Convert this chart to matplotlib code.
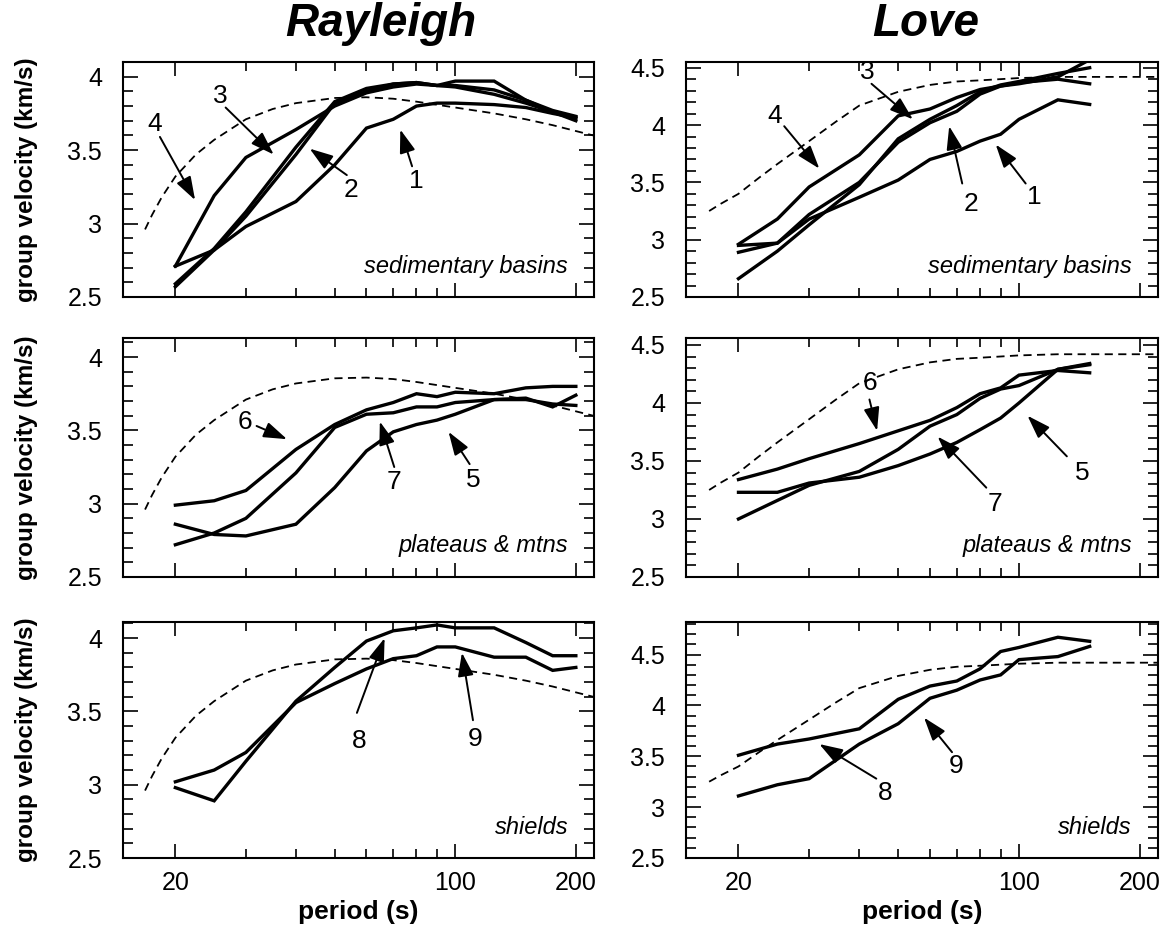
import matplotlib
matplotlib.use('Agg')
import matplotlib.pyplot as plt
from matplotlib.ticker import FixedLocator, NullFormatter, FormatStrFormatter

plt.rcParams['font.family'] = ['Liberation Sans', 'DejaVu Sans']

# periods (s)
per_ray = [20, 25, 30, 40, 50, 60, 70, 80, 90, 100, 125, 150, 175, 200]
per_love = [20, 25, 30, 40, 50, 60, 70, 80, 90, 100, 125, 150]

# reference model (dashed)
ref_ray_T = [16.8, 17.5, 18.5, 20, 22.5, 25, 30, 35, 40, 50, 60, 70, 80, 100, 125, 150, 175, 200, 221]
ref_ray_U = [2.96, 3.06, 3.18, 3.32, 3.47, 3.57, 3.71, 3.78, 3.82, 3.855, 3.86, 3.85, 3.83, 3.79, 3.75, 3.71, 3.67, 3.63, 3.60]
ref_love_T = [16.9, 18, 20, 22.5, 25, 30, 35, 40, 50, 60, 70, 80, 100, 125, 150, 222]
ref_love_U = [3.25, 3.31, 3.40, 3.54, 3.66, 3.86, 4.03, 4.17, 4.29, 4.35, 4.38, 4.39, 4.41, 4.42, 4.42, 4.42]

# Rayleigh group velocities (km/s)
ray_sed_1 = [2.71, 2.82, 2.98, 3.15, 3.40, 3.65, 3.71, 3.80, 3.82, 3.82, 3.81, 3.79, 3.75, 3.72]
ray_sed_2 = [2.57, 2.82, 3.05, 3.47, 3.82, 3.90, 3.95, 3.96, 3.94, 3.93, 3.88, 3.82, 3.76, 3.70]
ray_sed_3 = [2.59, 2.83, 3.08, 3.52, 3.83, 3.92, 3.95, 3.96, 3.94, 3.94, 3.91, 3.84, 3.76, 3.72]
ray_sed_4 = [2.71, 3.19, 3.45, 3.64, 3.80, 3.89, 3.93, 3.95, 3.94, 3.97, 3.97, 3.84, 3.77, 3.73]

ray_pla_5 = [2.86, 2.79, 2.78, 2.86, 3.11, 3.36, 3.49, 3.54, 3.57, 3.61, 3.71, 3.71, 3.68, 3.67]
ray_pla_6 = [2.99, 3.02, 3.09, 3.37, 3.54, 3.64, 3.69, 3.75, 3.73, 3.76, 3.75, 3.79, 3.80, 3.80]
ray_pla_7 = [2.72, 2.80, 2.90, 3.21, 3.52, 3.61, 3.62, 3.66, 3.66, 3.69, 3.71, 3.72, 3.66, 3.74]

ray_shi_8 = [2.98, 2.89, 3.16, 3.57, 3.80, 3.98, 4.05, 4.07, 4.09, 4.07, 4.07, 3.97, 3.88, 3.88]
ray_shi_9 = [3.02, 3.10, 3.22, 3.56, 3.69, 3.79, 3.86, 3.88, 3.94, 3.94, 3.87, 3.87, 3.78, 3.80]

# Love group velocities (km/s)
love_sed_1 = [2.95, 2.97, 3.18, 3.37, 3.52, 3.70, 3.77, 3.86, 3.92, 4.05, 4.22, 4.18]
love_sed_2 = [2.89, 2.97, 3.22, 3.50, 3.85, 4.02, 4.12, 4.27, 4.34, 4.37, 4.40, 4.36]
love_sed_3 = [2.66, 2.90, 3.13, 3.48, 3.88, 4.05, 4.17, 4.29, 4.35, 4.38, 4.45, 4.50]
love_sed_4 = [2.96, 3.18, 3.46, 3.74, 4.08, 4.14, 4.24, 4.31, 4.34, 4.36, 4.42, 4.57]

love_pla_5 = [3.23, 3.23, 3.31, 3.36, 3.46, 3.56, 3.66, 3.77, 3.87, 4.00, 4.29, 4.33]
love_pla_6 = [3.34, 3.43, 3.52, 3.65, 3.76, 3.85, 3.96, 4.08, 4.13, 4.24, 4.28, 4.26]
love_pla_7 = [3.00, 3.16, 3.29, 3.41, 3.60, 3.80, 3.90, 4.04, 4.12, 4.15, 4.29, 4.34]

love_shi_8 = [3.51, 3.62, 3.67, 3.77, 4.06, 4.19, 4.24, 4.36, 4.53, 4.57, 4.67, 4.63]
love_shi_9 = [3.11, 3.22, 3.28, 3.62, 3.82, 4.07, 4.15, 4.25, 4.30, 4.45, 4.48, 4.58]

regions = ['sedimentary basins', 'plateaus & mtns', 'shields']

# arrow labels: (number, text position, arrow tail, arrow tip) in (period, velocity)
arrows_ray = [
    [('4', (17.8, 3.68), (18.3, 3.59), (22.4, 3.16)),
     ('3', (25.9, 3.87), (26.7, 3.79), (35.2, 3.47)),
     ('2', (54.8, 3.23), (53.6, 3.33), (43.3, 3.51)),
     ('1', (79.7, 3.29), (78.0, 3.39), (72.9, 3.64))],
    [('6', (29.9, 3.56), (31.9, 3.53), (38.0, 3.44)),
     ('7', (70.2, 3.15), (70.4, 3.25), (64.8, 3.56)),
     ('5', (111, 3.16), (108.6, 3.27), (96.2, 3.49))],
    [('8', (57.4, 3.30), (56.8, 3.49), (66.6, 4.00)),
     ('9', (111.8, 3.31), (110.7, 3.44), (103.9, 3.90))],
]
arrows_love = [
    [('4', (24.6, 4.08), (26.0, 3.99), (31.8, 3.62)),
     ('3', (41.9, 4.46), (42.9, 4.36), (54.4, 4.05)),
     ('2', (75.8, 3.31), (72.2, 3.49), (67.0, 3.99)),
     ('1', (108.9, 3.37), (103.9, 3.49), (87.5, 3.83))],
    [('6', (42.4, 4.17), (42.4, 4.03), (44.3, 3.76)),
     ('7', (87.3, 3.13), (82.9, 3.27), (62.7, 3.71)),
     ('5', (144, 3.40), (131.6, 3.54), (105.0, 3.89))],
    [('8', (46.3, 3.14), (44.1, 3.28), (31.8, 3.62)),
     ('9', (69.8, 3.40), (68.1, 3.54), (58.0, 3.88))],
]

ray_curves = [[ray_sed_1, ray_sed_2, ray_sed_3, ray_sed_4],
              [ray_pla_5, ray_pla_6, ray_pla_7],
              [ray_shi_8, ray_shi_9]]
love_curves = [[love_sed_1, love_sed_2, love_sed_3, love_sed_4],
               [love_pla_5, love_pla_6, love_pla_7],
               [love_shi_8, love_shi_9]]
ray_top = [4.10, 4.13, 4.11]
love_top = [4.55, 4.56, 4.82]

W, H = 1160, 941
fig = plt.figure(figsize=(W / 100, H / 100), dpi=100)

rows_px = [(62, 297), (338, 577), (622, 858)]
cols_px = [(123, 594), (686, 1158)]


def setup(ax, top, bottom_row):
    ax.set_xscale('log')
    ax.set_xlim(14.8, 222)
    ax.set_ylim(2.5, top)
    ax.xaxis.set_major_locator(FixedLocator([20, 100, 200]))
    ax.xaxis.set_minor_locator(FixedLocator([30, 40, 50, 60, 70, 80, 90]))
    ax.xaxis.set_minor_formatter(NullFormatter())
    if bottom_row:
        ax.set_xticklabels(['20', '100', '200'])
        ax.set_xlabel('period (s)', fontsize=19, fontweight='bold', labelpad=4)
    else:
        ax.set_xticklabels([])
    yt = [v for v in [2.5, 3.0, 3.5, 4.0, 4.5] if v <= top]
    ax.yaxis.set_major_locator(FixedLocator(yt))
    ax.yaxis.set_major_formatter(FormatStrFormatter('%g'))
    ax.yaxis.set_minor_locator(FixedLocator([2.5 + 0.1 * i for i in range(24) if 2.5 + 0.1 * i <= top]))
    ax.tick_params(which='both', direction='in', top=True, right=True, width=1.2, labelsize=18)
    ax.tick_params(axis='x', which='major', length=10, pad=9)
    ax.tick_params(axis='x', which='minor', length=6.5)
    ax.tick_params(axis='y', which='major', length=11, pad=15)
    ax.tick_params(axis='y', which='minor', length=7)
    for s in ax.spines.values():
        s.set_linewidth(1.5)


for col in range(2):
    for row in range(3):
        x0, x1 = cols_px[col]
        y0, y1 = rows_px[row]
        ax = fig.add_axes([x0 / W, 1 - y1 / H, (x1 - x0) / W, (y1 - y0) / H])
        if col == 0:
            per, curves, top, arrs = per_ray, ray_curves[row], ray_top[row], arrows_ray[row]
            rT, rU = ref_ray_T, ref_ray_U
        else:
            per, curves, top, arrs = per_love, love_curves[row], love_top[row], arrows_love[row]
            rT, rU = ref_love_T, ref_love_U
        setup(ax, top, row == 2)
        ax.plot(rT, rU, color='k', lw=1.3, ls=(0, (4.5, 3)))
        for c in curves:
            ax.plot(per, c, color='k', lw=2.4, solid_joinstyle='miter')
        for num, tpos, tail, tip in arrs:
            ax.text(tpos[0], tpos[1], num, fontsize=19, ha='center', va='center')
            ax.annotate('', xy=tip, xytext=tail,
                        arrowprops=dict(arrowstyle='-|>,head_length=0.65,head_width=0.22',
                                        color='k', lw=1.4, shrinkA=0, shrinkB=0,
                                        mutation_scale=22))
        ax.text(0.945, 0.13, regions[row], transform=ax.transAxes, ha='right',
                va='center', fontsize=17, style='italic')
        if col == 0:
            ax.set_ylabel('group velocity (km/s)', fontsize=17.5, fontweight='bold')
            ax.yaxis.set_label_coords(-0.18, 0.5)

fig.text(0.328, 0.975, 'Rayleigh', fontsize=33, fontweight='bold', style='italic',
         ha='center', va='center')
fig.text(0.798, 0.975, 'Love', fontsize=33, fontweight='bold', style='italic',
         ha='center', va='center')

fig.savefig('out.png', dpi=100)
